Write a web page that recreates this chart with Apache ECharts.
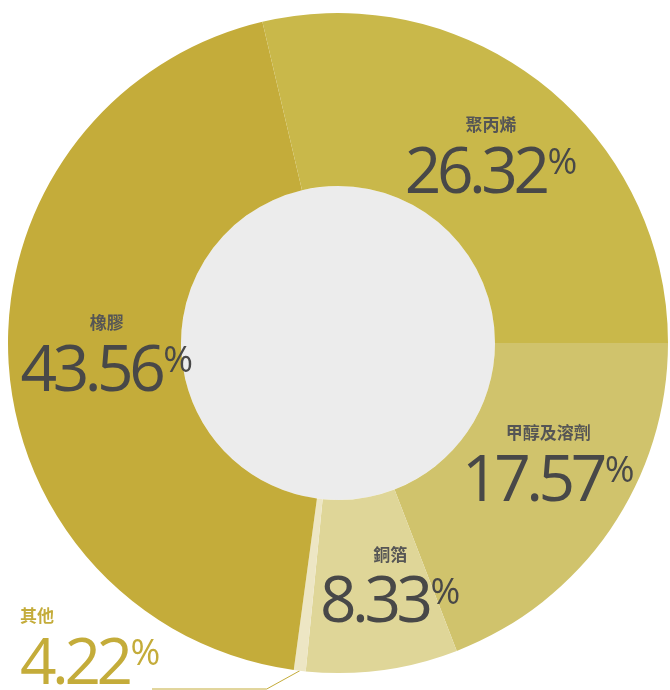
<!DOCTYPE html>
<html><head><meta charset="utf-8">
<script src="https://cdn.jsdelivr.net/npm/echarts@6/dist/echarts.min.js"></script>
<style>html,body{margin:0;padding:0;background:#fff}#c{width:670px;height:690px}</style>
<script>
// Tighter tracking for the large percentage numbers (applied consistently to
// measuring and drawing so the layout stays coherent).
(function () {
  var proto = window.CanvasRenderingContext2D && CanvasRenderingContext2D.prototype;
  if (!proto || !('letterSpacing' in proto)) return;
  function apply(ctx) {
    var m = /(\d+(?:\.\d+)?)px/.exec(ctx.font || '');
    var s = m ? parseFloat(m[1]) : 0;
    ctx.letterSpacing = s >= 40 ? (-0.07 * s).toFixed(1) + 'px' : '0px';
  }
  var f = proto.fillText, mt = proto.measureText;
  proto.fillText = function () { apply(this); return f.apply(this, arguments); };
  proto.measureText = function () { apply(this); return mt.apply(this, arguments); };
})();
</script>
</head><body><div id="c"></div>
<script>
// Data (clockwise from 3 o'clock)
const categories = ['甲醇及溶劑', '銅箔', '其他', '橡膠', '聚丙烯'];
const shareLabels = ['17.57', '8.33', '4.22', '43.56', '26.32'];
// slice sizes as drawn in the picture (angles measured)
const sliceValues = [19.14, 7.42, 0.58, 44.18, 28.68];

const sliceColors = ['#d0c36c', '#dfd698', '#ede6c4', '#c4ac3a', '#c9b84a'];
// label nudges (layout only), keyed by category
const labelNudge = {
  '甲醇及溶劑': [7, -19],
  '銅箔': [19, -2],
  '橡膠': [15, -1],
  '聚丙烯': [0, 6]
};
const gold = '#c4ac3a';
const dark = '#484848';
const numFont = 'Open Sans';
const cjkFont = 'Noto Sans CJK TC';

const rich = {
  n: {fontSize: 17, fontWeight: 'bold', color: '#555', fontFamily: cjkFont, lineHeight: 38, align: 'center'},
  v: {fontSize: 64, color: dark, fontFamily: numFont, lineHeight: 62},
  p: {fontSize: 36, color: dark, fontFamily: numFont, verticalAlign: 'top', lineHeight: 36, padding: [2, 0, 0, 2]},
  ng: {fontSize: 17, fontWeight: 'bold', color: gold, fontFamily: cjkFont, lineHeight: 38},
  vg: {fontSize: 64, color: gold, fontFamily: numFont, lineHeight: 62},
  pg: {fontSize: 36, color: gold, fontFamily: numFont, verticalAlign: 'top', lineHeight: 36, padding: [2, 0, 0, 2]}
};

const data = categories.map((name, i) => {
  const item = {
    name: name,
    value: sliceValues[i],
    itemStyle: {color: sliceColors[i]}
  };
  if (name === '其他') {
    item.label = {
      position: 'outside',
      align: 'left',
      formatter: p => '{ng|' + p.name + '}\n{vg|' + shareLabels[p.dataIndex] + '}{pg|%}'
    };
    item.labelLine = {show: true, lineStyle: {color: gold, width: 1}};
  }
  return item;
});

const chart = echarts.init(document.getElementById('c'), null, {renderer: 'canvas'});
chart.setOption({
  backgroundColor: '#ffffff',
  animation: false,
  series: [
    {
      type: 'pie',
      center: [338, 343],
      radius: [0, 157],
      silent: true,
      label: {show: false},
      labelLine: {show: false},
      data: [{value: 1, itemStyle: {color: '#ececec'}}]
    },
    {
      type: 'pie',
      center: [338, 343],
      radius: [157, 330],
      startAngle: 0,
      clockwise: true,
      avoidLabelOverlap: false,
      label: {
        show: true,
        position: 'inside',
        align: 'center',
        formatter: p => '{n|' + p.name + '}\n{v|' + shareLabels[p.dataIndex] + '}{p|%}',
        rich: rich
      },
      labelLine: {show: false},
      labelLayout: function (params) {
        const name = categories[params.dataIndex];
        if (name !== '其他') {
          const d = labelNudge[name] || [0, 0];
          return {dx: d[0], dy: d[1]};
        }
        const a = params.labelLinePoints ? params.labelLinePoints[0] : [296, 670];
        return {
          x: 20,
          y: 697,
          align: 'left',
          verticalAlign: 'bottom',
          labelLinePoints: [a, [a[0] - 33, 689], [152, 689]]
        };
      },
      data: data
    }
  ]
});
</script>
</body></html>
